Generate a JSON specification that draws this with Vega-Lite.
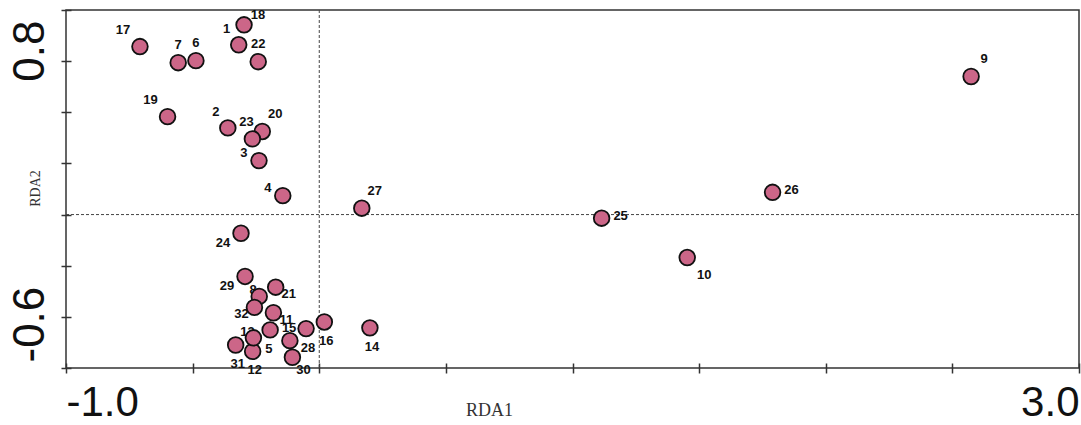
{
  "$schema": "https://vega.github.io/schema/vega-lite/v6.json",
  "width": 1013,
  "height": 358,
  "autosize": {"type": "none"},
  "padding": {"left": 66, "top": 10, "right": 2, "bottom": 57},
  "background": "white",
  "config": {"view": {"stroke": "#333", "strokeWidth": 1.5}},
  "datasets": {
    "sites": [
      {"id": 1, "rda1": -0.318, "rda2": 0.664},
      {"id": 2, "rda1": -0.361, "rda2": 0.339},
      {"id": 3, "rda1": -0.238, "rda2": 0.211},
      {"id": 4, "rda1": -0.144, "rda2": 0.074},
      {"id": 5, "rda1": -0.116, "rda2": -0.493},
      {"id": 6, "rda1": -0.487, "rda2": 0.602},
      {"id": 7, "rda1": -0.557, "rda2": 0.594},
      {"id": 8, "rda1": -0.237, "rda2": -0.320},
      {"id": 9, "rda1": 2.574, "rda2": 0.540},
      {"id": 10, "rda1": 1.453, "rda2": -0.168},
      {"id": 11, "rda1": -0.181, "rda2": -0.384},
      {"id": 12, "rda1": -0.263, "rda2": -0.535},
      {"id": 13, "rda1": -0.260, "rda2": -0.482},
      {"id": 14, "rda1": 0.200, "rda2": -0.443},
      {"id": 15, "rda1": -0.194, "rda2": -0.451},
      {"id": 16, "rda1": 0.020, "rda2": -0.420},
      {"id": 17, "rda1": -0.708, "rda2": 0.657},
      {"id": 18, "rda1": -0.297, "rda2": 0.742},
      {"id": 19, "rda1": -0.599, "rda2": 0.383},
      {"id": 20, "rda1": -0.225, "rda2": 0.325},
      {"id": 21, "rda1": -0.172, "rda2": -0.284},
      {"id": 22, "rda1": -0.241, "rda2": 0.598},
      {"id": 23, "rda1": -0.264, "rda2": 0.296},
      {"id": 24, "rda1": -0.309, "rda2": -0.073},
      {"id": 25, "rda1": 1.115, "rda2": -0.014},
      {"id": 26, "rda1": 1.790, "rda2": 0.087},
      {"id": 27, "rda1": 0.168, "rda2": 0.025},
      {"id": 28, "rda1": -0.052, "rda2": -0.446},
      {"id": 29, "rda1": -0.293, "rda2": -0.242},
      {"id": 30, "rda1": -0.106, "rda2": -0.558},
      {"id": 31, "rda1": -0.330, "rda2": -0.510},
      {"id": 32, "rda1": -0.256, "rda2": -0.363}
    ],
    "origin": [{"rda1": 0, "rda2": 0}]
  },
  "layer": [
    {
      "data": {"name": "origin"},
      "mark": {"type": "rule", "color": "#444", "strokeDash": [3, 2], "strokeWidth": 1},
      "encoding": {"x": {"field": "rda1", "type": "quantitative"}}
    },
    {
      "data": {"name": "origin"},
      "mark": {"type": "rule", "color": "#444", "strokeDash": [3, 2], "strokeWidth": 1},
      "encoding": {"y": {"field": "rda2", "type": "quantitative"}}
    },
    {
      "data": {"name": "sites"},
      "encoding": {
        "x": {
          "field": "rda1", "type": "quantitative",
          "scale": {"domain": [-1, 3], "nice": false, "zero": false},
          "axis": {
            "title": "RDA1",
            "values": [-1, -0.5, 0, 0.5, 1, 1.5, 2, 2.5, 3],
            "labelExpr": "datum.value == -1 ? '-1.0' : (datum.value == 3 ? '3.0' : '')",
            "grid": false, "domain": false, "offset": -5,
            "tickSize": 10, "tickColor": "#333", "tickWidth": 1.5,
            "labelFont": "Liberation Sans", "labelFontSize": 42, "labelColor": "#111",
            "labelBaseline": "alphabetic", "labelPadding": 42,
            "labelAlign": {"condition": {"test": "datum.value < 0", "value": "left"}, "value": "right"},
            "labelOverlap": false, "labelFlush": false, "labelBound": false,
            "titleFont": "Liberation Serif", "titleFontSize": 18, "titleFontWeight": "normal",
            "titleColor": "#333", "titleX": 423, "titleY": 52,
            "titleBaseline": "alphabetic", "titleAlign": "center"
          }
        },
        "y": {
          "field": "rda2", "type": "quantitative",
          "scale": {"domain": [-0.6, 0.8], "nice": false, "zero": false},
          "axis": {
            "title": "RDA2",
            "values": [-0.6, -0.4, -0.2, 0, 0.2, 0.4, 0.6, 0.8],
            "labelExpr": "datum.value > 0.7 ? '0.8' : (datum.value < -0.5 ? '-0.6' : '')",
            "grid": false, "domain": false, "offset": -5,
            "tickSize": 10, "tickColor": "#333", "tickWidth": 1.5,
            "labelFont": "Liberation Sans", "labelFontSize": 44, "labelColor": "#111",
            "labelAngle": -90, "labelBaseline": "alphabetic", "labelPadding": 18,
            "labelAlign": {"condition": {"test": "datum.value > 0", "value": "right"}, "value": "left"},
            "labelOffset": {"condition": {"test": "datum.value > 0", "value": 10}, "value": -6},
            "labelOverlap": false, "labelFlush": false, "labelBound": false,
            "titleFont": "Liberation Serif", "titleFontSize": 14, "titleFontWeight": "normal",
            "titleColor": "#333", "titleAngle": -90, "titleX": -36, "titleY": 178,
            "titleBaseline": "middle", "titleAlign": "center"
          }
        }
      },
      "layer": [
        {"transform": [{"filter": {"field": "id", "oneOf": [7, 6, 22]}}],
         "mark": {"type": "text", "dx": 0, "dy": -18, "font": "Liberation Sans", "fontWeight": "bold", "fontSize": 13, "color": "#111"},
         "encoding": {"text": {"field": "id"}}},
        {"transform": [{"filter": {"field": "id", "oneOf": [17, 19]}}],
         "mark": {"type": "text", "dx": -17, "dy": -17, "font": "Liberation Sans", "fontWeight": "bold", "fontSize": 13, "color": "#111"},
         "encoding": {"text": {"field": "id"}}},
        {"transform": [{"filter": {"field": "id", "oneOf": [1, 2]}}],
         "mark": {"type": "text", "dx": -12, "dy": -16, "font": "Liberation Sans", "fontWeight": "bold", "fontSize": 13, "color": "#111"},
         "encoding": {"text": {"field": "id"}}},
        {"transform": [{"filter": {"field": "id", "oneOf": [23]}}],
         "mark": {"type": "text", "dx": -6, "dy": -17, "font": "Liberation Sans", "fontWeight": "bold", "fontSize": 13, "color": "#111"},
         "encoding": {"text": {"field": "id"}}},
        {"transform": [{"filter": {"field": "id", "oneOf": [20, 9, 27]}}],
         "mark": {"type": "text", "dx": 13, "dy": -17, "font": "Liberation Sans", "fontWeight": "bold", "fontSize": 13, "color": "#111"},
         "encoding": {"text": {"field": "id"}}},
        {"transform": [{"filter": {"field": "id", "oneOf": [18]}}],
         "mark": {"type": "text", "dx": 14, "dy": -10, "font": "Liberation Sans", "fontWeight": "bold", "fontSize": 13, "color": "#111"},
         "encoding": {"text": {"field": "id"}}},
        {"transform": [{"filter": {"field": "id", "oneOf": [3, 4]}}],
         "mark": {"type": "text", "dx": -15, "dy": -8, "font": "Liberation Sans", "fontWeight": "bold", "fontSize": 13, "color": "#111"},
         "encoding": {"text": {"field": "id"}}},
        {"transform": [{"filter": {"field": "id", "oneOf": [25, 26, 15]}}],
         "mark": {"type": "text", "dx": 19, "dy": -2, "font": "Liberation Sans", "fontWeight": "bold", "fontSize": 13, "color": "#111"},
         "encoding": {"text": {"field": "id"}}},
        {"transform": [{"filter": {"field": "id", "oneOf": [10]}}],
         "mark": {"type": "text", "dx": 17, "dy": 17, "font": "Liberation Sans", "fontWeight": "bold", "fontSize": 13, "color": "#111"},
         "encoding": {"text": {"field": "id"}}},
        {"transform": [{"filter": {"field": "id", "oneOf": [24, 29]}}],
         "mark": {"type": "text", "dx": -18, "dy": 10, "font": "Liberation Sans", "fontWeight": "bold", "fontSize": 13, "color": "#111"},
         "encoding": {"text": {"field": "id"}}},
        {"transform": [{"filter": {"field": "id", "oneOf": [21, 11]}}],
         "mark": {"type": "text", "dx": 13, "dy": 7, "font": "Liberation Sans", "fontWeight": "bold", "fontSize": 13, "color": "#111"},
         "encoding": {"text": {"field": "id"}}},
        {"transform": [{"filter": {"field": "id", "oneOf": [32]}}],
         "mark": {"type": "text", "dx": -13, "dy": 7, "font": "Liberation Sans", "fontWeight": "bold", "fontSize": 13, "color": "#111"},
         "encoding": {"text": {"field": "id"}}},
        {"transform": [{"filter": {"field": "id", "oneOf": [13, 8]}}],
         "mark": {"type": "text", "dx": -6, "dy": -6, "font": "Liberation Sans", "fontWeight": "bold", "fontSize": 13, "color": "#111"},
         "encoding": {"text": {"field": "id"}}},
        {"transform": [{"filter": {"field": "id", "oneOf": [5]}}],
         "mark": {"type": "text", "dx": -21, "dy": 8, "font": "Liberation Sans", "fontWeight": "bold", "fontSize": 13, "color": "#111"},
         "encoding": {"text": {"field": "id"}}},
        {"transform": [{"filter": {"field": "id", "oneOf": [31, 12, 28, 16, 14]}}],
         "mark": {"type": "text", "dx": 2, "dy": 19, "font": "Liberation Sans", "fontWeight": "bold", "fontSize": 13, "color": "#111"},
         "encoding": {"text": {"field": "id"}}},
        {"transform": [{"filter": {"field": "id", "oneOf": [30]}}],
         "mark": {"type": "text", "dx": 11, "dy": 13, "font": "Liberation Sans", "fontWeight": "bold", "fontSize": 13, "color": "#111"},
         "encoding": {"text": {"field": "id"}}},
        {
          "mark": {"type": "circle", "size": 245, "fill": "#cc6688", "stroke": "#111", "strokeWidth": 1.8, "opacity": 1}
        }
      ]
    }
  ]
}
